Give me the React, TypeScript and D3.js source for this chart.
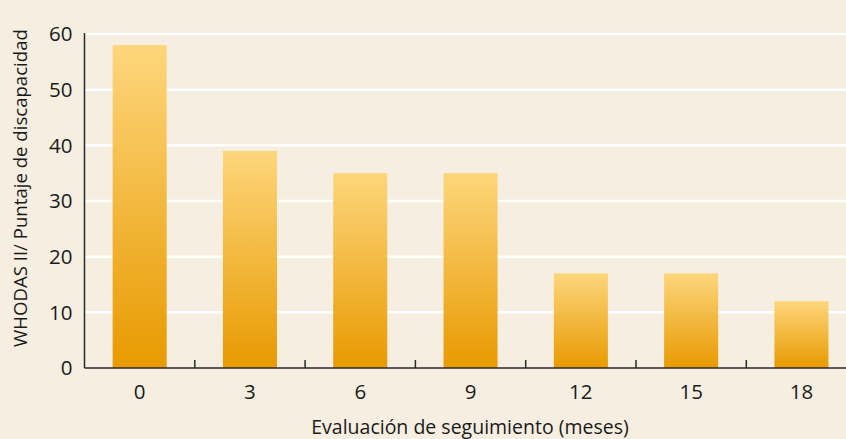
import React from "react";
import * as d3 from "d3";

const categories = ["0", "3", "6", "9", "12", "15", "18"];
const values = [58, 39, 35, 35, 17, 17, 12];
const yTicks = [0, 10, 20, 30, 40, 50, 60];
const xTitle = "Evaluación de seguimiento (meses)";
const yTitle = "WHODAS II/ Puntaje de discapacidad";

const W = 846;
const H = 439;
const left = 84.5;
const bandStep = 110.3;
const top = 34;
const bottom = 368;

export default function App() {
  const x = d3
    .scaleBand<string>()
    .domain(categories)
    .range([left, left + bandStep * categories.length])
    .paddingInner(0.51)
    .paddingOuter(0.255);
  const y = d3.scaleLinear().domain([0, 60]).range([bottom, top]);
  const font = "'Open Sans', sans-serif";
  const boundaries = categories.slice(1).map((c) => (x(c) as number) - (x.step() * x.paddingInner()) / 2);

  return (
    <svg width={W} height={H} style={{ position: "absolute", left: 0, top: 0 }}>
      <defs>
        <linearGradient id="barGrad" x1="0" y1="0" x2="0" y2="1">
          <stop offset="0%" stopColor="#FDD67C" />
          <stop offset="100%" stopColor="#E89A00" />
        </linearGradient>
      </defs>
      <rect x={0} y={0} width={W} height={H} fill="#F6EFE1" />
      {yTicks.slice(1).map((t) => (
        <line key={t} x1={left} x2={W} y1={y(t)} y2={y(t)} stroke="#FFFFFF" strokeWidth={2.5} />
      ))}
      {categories.map((c, i) => (
        <rect
          key={c}
          x={x(c)}
          y={y(values[i])}
          width={x.bandwidth()}
          height={bottom - y(values[i])}
          fill="url(#barGrad)"
        />
      ))}
      <line x1={left} x2={W} y1={bottom} y2={bottom} stroke="#2a2a2a" strokeWidth={1.5} />
      <line x1={left} x2={left} y1={top - 1} y2={bottom} stroke="#2a2a2a" strokeWidth={1.5} />
      {boundaries.map((b, i) => (
        <line key={i} x1={b} x2={b} y1={bottom} y2={bottom - 8} stroke="#2a2a2a" strokeWidth={1.5} />
      ))}
      {yTicks.map((t) => (
        <text
          key={t}
          x={72.5}
          y={y(t)}
          dy="0.36em"
          textAnchor="end"
          fontFamily={font}
          fontSize={20.5}
          fill="#1a1a1a"
        >
          {t}
        </text>
      ))}
      {categories.map((c) => (
        <text
          key={c}
          x={(x(c) as number) + x.bandwidth() / 2}
          y={399}
          textAnchor="middle"
          fontFamily={font}
          fontSize={20.5}
          fill="#1a1a1a"
        >
          {c}
        </text>
      ))}
      <text x={470} y={433.5} textAnchor="middle" fontFamily={font} fontSize={19.5} fill="#1a1a1a">
        {xTitle}
      </text>
      <text
        transform={`translate(26.5, 188) rotate(-90)`}
        textAnchor="middle"
        fontFamily={font}
        fontSize={18.6}
        fill="#1a1a1a"
      >
        {yTitle}
      </text>
    </svg>
  );
}
